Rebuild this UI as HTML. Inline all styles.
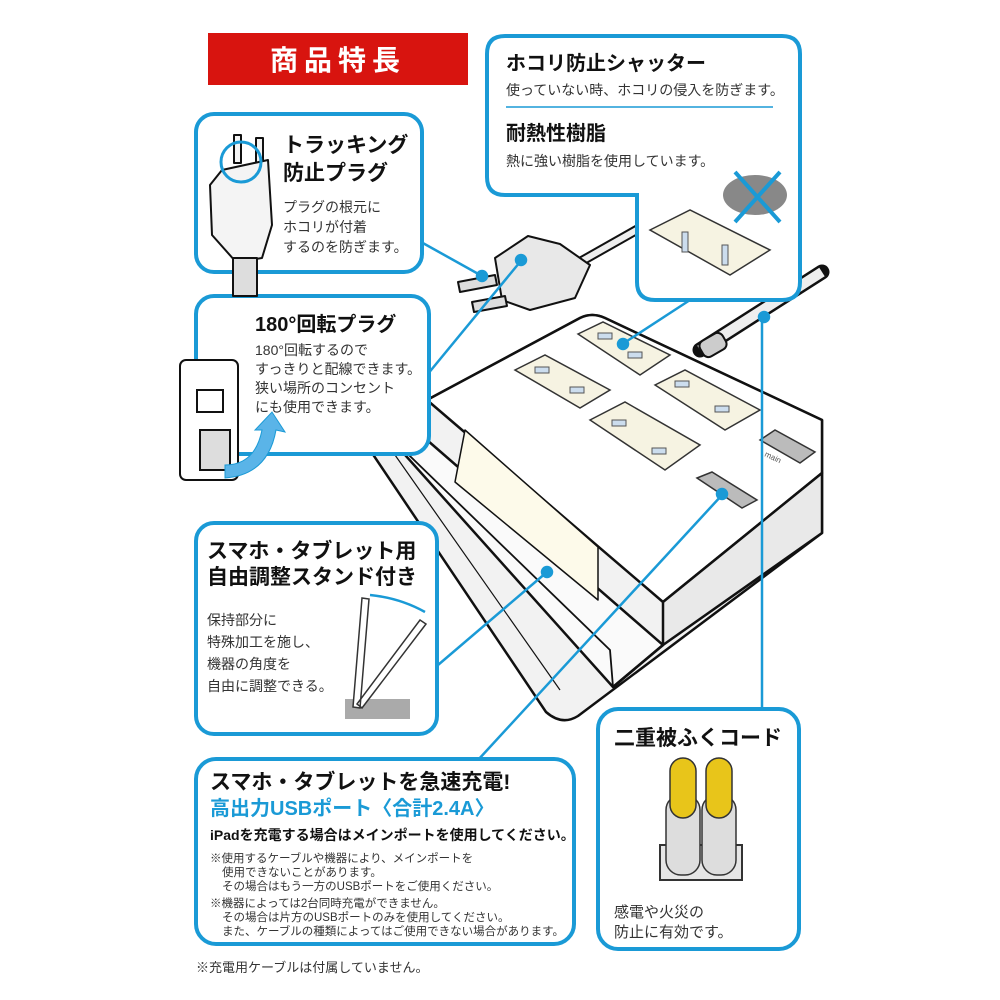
<!DOCTYPE html>
<html><head><meta charset="utf-8"><style>
body{margin:0;background:#fff;}
svg{display:block}
text{font-family:"Liberation Sans","Noto Sans CJK JP",sans-serif;}
.b{font-weight:bold;fill:#111}
.t{fill:#333}
</style></head><body>
<svg width="1000" height="1000" viewBox="0 0 1000 1000" xmlns="http://www.w3.org/2000/svg">
<rect width="1000" height="1000" fill="#fff"/>
<!-- cord -->
<path d="M700,350 L822,272" stroke="#111" stroke-width="15" fill="none" stroke-linecap="round"/>
<path d="M700,350 L822,272" stroke="#eee" stroke-width="10" fill="none"/>
<rect x="700" y="336" width="26" height="18" rx="6" fill="#ccc" stroke="#111" stroke-width="2" transform="rotate(-30 713 345)"/>
<!-- product body -->
<g stroke="#111" stroke-width="2.5" stroke-linejoin="round">
  <path d="M372,425 L427,430 L427,400 L580,318 Q592,312 605,318 L822,420 L822,533 L578,716 Q562,726 546,712 L368,447 Q360,430 372,425 Z" fill="#f2f2f2"/>
  <path d="M427,400 L580,318 Q592,312 605,318 L822,420 L822,473 L663,602 Z" fill="#fff"/>
  <path d="M663,602 L822,473 L822,533 L663,645 Z" fill="#e9e9e9"/>
  <path d="M380,427 L427,440 L663,645 L613,687 Z" fill="#fafafa"/>
  <path d="M465,430 L598,547 L598,600 L455,482 Z" fill="#fdfaea" stroke-width="1.5"/>
  <path d="M427,400 L427,440" fill="none"/>
  <path d="M380,427 L610,650 L613,687" fill="none" stroke-width="1.8"/>
  <path d="M395,455 L560,690" fill="none" stroke-width="1.2"/>
  <path d="M613,687 L663,645" fill="none"/>
</g>
<!-- outlets -->
<g stroke="#333" stroke-width="1.5" fill="#f6f3e2">
  <path d="M578,334 L603,322 L670,355 L640,375 Z"/>
  <path d="M515,370 L545,355 L610,390 L580,408 Z"/>
  <path d="M655,385 L685,370 L760,410 L725,430 Z"/>
  <path d="M590,420 L625,402 L700,445 L665,470 Z"/>
</g>
<g fill="#cde" stroke="#555" stroke-width="1">
  <rect x="598" y="333" width="14" height="6"/><rect x="628" y="352" width="14" height="6"/>
  <rect x="535" y="367" width="14" height="6"/><rect x="570" y="387" width="14" height="6"/>
  <rect x="675" y="381" width="14" height="6"/><rect x="715" y="406" width="14" height="6"/>
  <rect x="612" y="420" width="14" height="6"/><rect x="652" y="448" width="14" height="6"/>
</g>
<path d="M697,478 L712,472 L757,500 L742,508 Z" fill="#bbb" stroke="#333" stroke-width="1.5"/>
<path d="M760,440 L775,430 L815,452 L800,463 Z" fill="#bbb" stroke="#333" stroke-width="1.5"/>
<text x="764" y="456" font-size="8" fill="#555" transform="rotate(25 764 456)">main</text>
<!-- plug near center -->
<g stroke="#111" stroke-width="2" fill="#eee" stroke-linejoin="round">
  <path d="M580,262 L640,228" stroke-width="10" fill="none"/>
  <path d="M580,262 L640,228" stroke="#eee" stroke-width="6" fill="none"/>
  <path d="M495,258 L528,236 L560,244 L590,265 L575,298 L530,310 L502,300 Z" fill="#e8e8e8"/>
  <path d="M458,282 L495,275 L497,285 L460,292 Z" fill="#ddd"/>
  <path d="M472,302 L505,296 L507,306 L474,312 Z" fill="#ddd"/>
</g>
<!-- connectors -->
<g stroke="#1a9ad6" stroke-width="2.5" fill="#1a9ad6">
  <line x1="421" y1="242" x2="482" y2="276"/><circle cx="482" cy="276" r="5"/>
  <line x1="427" y1="375" x2="520" y2="262"/><circle cx="521" cy="260" r="5"/>
  <line x1="690" y1="300" x2="624" y2="343"/><circle cx="623" cy="344" r="5"/>
  <line x1="438" y1="665" x2="547" y2="572"/><circle cx="547" cy="572" r="5"/>
  <line x1="478" y1="760" x2="722" y2="495"/><circle cx="722" cy="494" r="5"/>
  <line x1="762" y1="318" x2="762" y2="708"/><circle cx="764" cy="317" r="5"/>
</g>
<!-- header -->
<rect x="208" y="33" width="260" height="52" fill="#d8140f"/>
<text x="338" y="70" font-size="28" font-weight="bold" fill="#fff" text-anchor="middle" letter-spacing="6">商品特長</text>
<!-- boxes -->
<g fill="#fff" stroke="#1a9ad6" stroke-width="4">
  <rect x="196" y="114" width="226" height="158" rx="18"/>
  <path d="M505,36 L782,36 Q800,36 800,54 L800,282 Q800,300 782,300 L655,300 Q637,300 637,282 L637,195 L505,195 Q487,195 487,177 L487,54 Q487,36 505,36 Z"/>
  <rect x="196" y="296" width="233" height="158" rx="18"/>
  <rect x="196" y="523" width="241" height="211" rx="18"/>
  <rect x="196" y="759" width="378" height="185" rx="20"/>
  <rect x="598" y="709" width="201" height="240" rx="20"/>
</g>
<!-- tracking box -->
<text x="283" y="152" font-size="21" class="b">トラッキング</text>
<text x="283" y="180" font-size="21" class="b">防止プラグ</text>
<text x="283" y="212" font-size="14" class="t">プラグの根元に</text>
<text x="283" y="232" font-size="14" class="t">ホコリが付着</text>
<text x="283" y="252" font-size="14" class="t">するのを防ぎます。</text>
<g stroke="#111" stroke-width="2" fill="#f4f4f4" stroke-linejoin="round">
  <rect x="234" y="135" width="7" height="28"/><rect x="256" y="138" width="7" height="28"/>
  <path d="M222,170 L268,160 L272,225 L262,258 L236,262 L212,235 L210,185 Z"/>
  <rect x="233" y="258" width="24" height="38" fill="#ddd"/>
</g>
<circle cx="241" cy="162" r="20" fill="none" stroke="#1a9ad6" stroke-width="3"/>
<!-- shutter box -->
<text x="506" y="70" font-size="20" class="b">ホコリ防止シャッター</text>
<text x="506" y="95" font-size="14" class="t">使っていない時、ホコリの侵入を防ぎます。</text>
<line x1="506" y1="107" x2="773" y2="107" stroke="#1a9ad6" stroke-width="1.5"/>
<text x="506" y="140" font-size="20" class="b">耐熱性樹脂</text>
<text x="506" y="166" font-size="14" class="t">熱に強い樹脂を使用しています。</text>
<path d="M650,230 L690,210 L770,250 L730,275 Z" fill="#f6f3e2" stroke="#333" stroke-width="1.5"/>
<rect x="682" y="232" width="6" height="20" fill="#cde" stroke="#555"/>
<rect x="722" y="245" width="6" height="20" fill="#cde" stroke="#555"/>
<ellipse cx="755" cy="195" rx="32" ry="20" fill="#888"/>
<path d="M735,172 L780,222 M780,172 L735,222" stroke="#1a9ad6" stroke-width="4"/>
<!-- 180 box -->
<text x="255" y="331" font-size="20" class="b">180°回転プラグ</text>
<text x="255" y="355" font-size="14" class="t">180°回転するので</text>
<text x="255" y="374" font-size="14" class="t">すっきりと配線できます。</text>
<text x="255" y="393" font-size="14" class="t">狭い場所のコンセント</text>
<text x="255" y="412" font-size="14" class="t">にも使用できます。</text>
<rect x="180" y="360" width="58" height="120" rx="6" fill="#fff" stroke="#111" stroke-width="2"/>
<rect x="197" y="390" width="26" height="22" fill="#fff" stroke="#111" stroke-width="2"/>
<rect x="200" y="430" width="30" height="40" fill="#ddd" stroke="#111" stroke-width="2"/>
<path d="M225,465 Q255,465 262,430 L255,430 L272,412 L285,432 L276,430 Q268,475 225,478 Z" fill="#5ab4e8" stroke="#1a9ad6"/>
<!-- stand box -->
<text x="207" y="558" font-size="21" class="b">スマホ・タブレット用</text>
<text x="207" y="584" font-size="21" class="b">自由調整スタンド付き</text>
<text x="207" y="625" font-size="14" class="t">保持部分に</text>
<text x="207" y="647" font-size="14" class="t">特殊加工を施し、</text>
<text x="207" y="669" font-size="14" class="t">機器の角度を</text>
<text x="207" y="691" font-size="14" class="t">自由に調整できる。</text>
<rect x="345" y="699" width="65" height="20" fill="#aaa"/>
<path d="M362,598 L369,599 L360,708 L353,707 Z M420,620 L426,624 L362,708 L357,704 Z" fill="#fff" stroke="#333" stroke-width="1.5"/>
<path d="M370,595 Q400,598 425,612" stroke="#1a9ad6" stroke-width="2.5" fill="none"/>
<!-- USB box -->
<text x="210" y="789" font-size="21" class="b">スマホ・タブレットを急速充電!</text>
<text x="210" y="815" font-size="20" font-weight="bold" fill="#1a9ad6">高出力USBポート〈合計2.4A〉</text>
<text x="210" y="840" font-size="14" class="b">iPadを充電する場合はメインポートを使用してください。</text>
<g font-size="11.5" class="t">
<text x="210" y="862">※使用するケーブルや機器により、メインポートを</text>
<text x="222" y="876">使用できないことがあります。</text>
<text x="222" y="890">その場合はもう一方のUSBポートをご使用ください。</text>
<text x="210" y="907">※機器によっては2台同時充電ができません。</text>
<text x="222" y="921">その場合は片方のUSBポートのみを使用してください。</text>
<text x="222" y="935">また、ケーブルの種類によってはご使用できない場合があります。</text>
</g>
<text x="196" y="972" font-size="13" class="t">※充電用ケーブルは付属していません。</text>
<!-- cord box -->
<text x="614" y="745" font-size="21" class="b">二重被ふくコード</text>
<rect x="660" y="845" width="82" height="35" fill="#e6e6e6" stroke="#333" stroke-width="2"/>
<rect x="666" y="795" width="34" height="80" rx="15" fill="#ddd" stroke="#333" stroke-width="1.5"/>
<rect x="702" y="795" width="34" height="80" rx="15" fill="#ddd" stroke="#333" stroke-width="1.5"/>
<rect x="670" y="758" width="26" height="60" rx="13" fill="#e8c51a" stroke="#333" stroke-width="1.5"/>
<rect x="706" y="758" width="26" height="60" rx="13" fill="#e8c51a" stroke="#333" stroke-width="1.5"/>
<text x="614" y="917" font-size="15" class="t">感電や火災の</text>
<text x="614" y="937" font-size="15" class="t">防止に有効です。</text>
</svg>
</body></html>
